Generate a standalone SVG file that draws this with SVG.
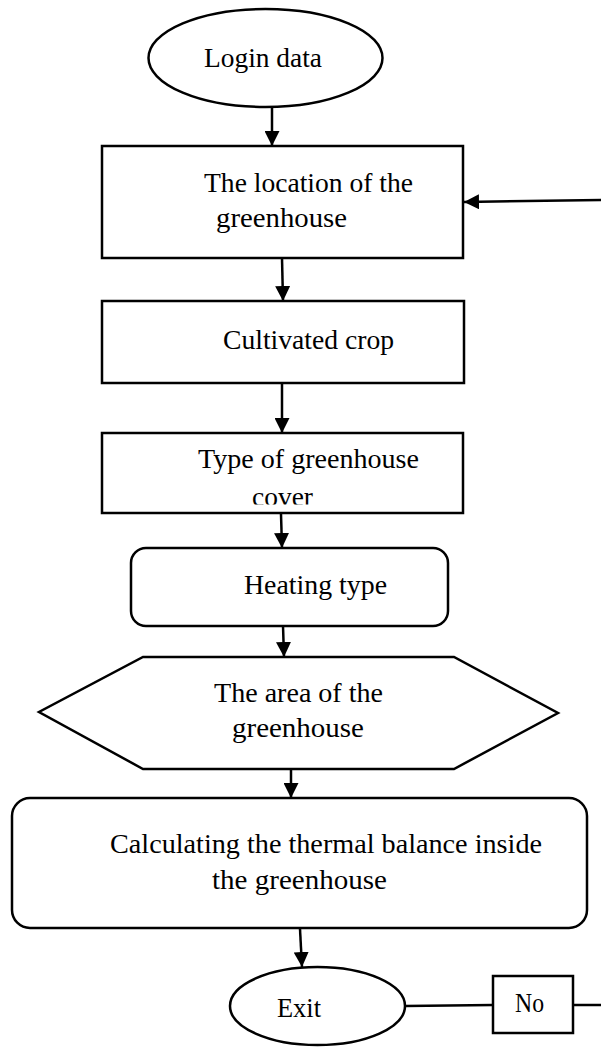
<svg xmlns="http://www.w3.org/2000/svg" width="601" height="1048" viewBox="0 0 601 1048">
<style>
.s{fill:#fff;stroke:#000;stroke-width:2.5}
.c{fill:none;stroke:#000;stroke-width:2.5}
.t{font-family:"Liberation Serif","Times New Roman",serif;font-size:28px;fill:#000}
</style>
<defs>
<marker id="ah" viewBox="0 0 10 10" refX="10" refY="5" markerUnits="userSpaceOnUse" markerWidth="15" markerHeight="15" orient="auto">
<path d="M0,0 L10,5 L0,10 z" fill="#000"/>
</marker>
<clipPath id="cv"><rect x="100" y="430" width="370" height="74.5"/></clipPath>
</defs>
<rect width="601" height="1048" fill="#fff"/>
<g id="connectors">
<line class="c" x1="272" y1="107" x2="272" y2="146" marker-end="url(#ah)"/>
<line class="c" x1="282" y1="258" x2="283" y2="301" marker-end="url(#ah)"/>
<line class="c" x1="282" y1="383" x2="282" y2="433" marker-end="url(#ah)"/>
<line class="c" x1="281" y1="514" x2="282" y2="548" marker-end="url(#ah)"/>
<line class="c" x1="283" y1="626" x2="284" y2="657" marker-end="url(#ah)"/>
<line class="c" x1="291" y1="769" x2="291" y2="798" marker-end="url(#ah)"/>
<line class="c" x1="300" y1="929" x2="302" y2="967" marker-end="url(#ah)"/>
<line class="c" x1="601" y1="200" x2="464" y2="202" marker-end="url(#ah)"/>
<line class="c" x1="405" y1="1006" x2="493" y2="1005"/>
<line class="c" x1="573" y1="1005" x2="601" y2="1005"/>
</g>
<g id="login">
<ellipse class="s" cx="265.5" cy="58" rx="117" ry="49"/>
<text class="t" x="204" y="67" textLength="118" lengthAdjust="spacingAndGlyphs">Login data</text>
</g>
<g id="location">
<rect class="s" x="102" y="146" width="361" height="112"/>
<text class="t" x="204" y="192" textLength="209" lengthAdjust="spacingAndGlyphs">The location of the</text>
<text class="t" x="216" y="227" textLength="131" lengthAdjust="spacingAndGlyphs">greenhouse</text>
</g>
<g id="crop">
<rect class="s" x="102" y="301" width="362" height="82"/>
<text class="t" x="223" y="349" textLength="171" lengthAdjust="spacingAndGlyphs">Cultivated crop</text>
</g>
<g id="cover">
<rect class="s" x="102" y="433" width="361" height="80"/>
<text class="t" x="198" y="468" textLength="221" lengthAdjust="spacingAndGlyphs">Type of greenhouse</text>
<text class="t" x="252" y="506" textLength="61" lengthAdjust="spacingAndGlyphs" clip-path="url(#cv)">cover</text>
</g>
<g id="heating">
<rect class="s" x="131" y="548" width="317" height="78" rx="15"/>
<text class="t" x="244" y="594" textLength="143" lengthAdjust="spacingAndGlyphs">Heating type</text>
</g>
<g id="area">
<polygon class="s" points="143,657 454,657 558,713 454,769 143,769 39,712"/>
<text class="t" x="214" y="702" textLength="169" lengthAdjust="spacingAndGlyphs">The area of the</text>
<text class="t" x="232" y="737" textLength="132" lengthAdjust="spacingAndGlyphs">greenhouse</text>
</g>
<g id="calc">
<rect class="s" x="12" y="798" width="575" height="130" rx="18"/>
<text class="t" x="110" y="853" textLength="432" lengthAdjust="spacingAndGlyphs">Calculating the thermal balance inside</text>
<text class="t" x="212" y="889" textLength="175" lengthAdjust="spacingAndGlyphs">the greenhouse</text>
</g>
<g id="exit">
<ellipse class="s" cx="317.5" cy="1006" rx="87.5" ry="39"/>
<text class="t" x="277" y="1017" textLength="44" lengthAdjust="spacingAndGlyphs">Exit</text>
</g>
<g id="no">
<rect class="s" x="493" y="976" width="80" height="57"/>
<text class="t" x="515" y="1012" textLength="29" lengthAdjust="spacingAndGlyphs">No</text>
</g>
</svg>
